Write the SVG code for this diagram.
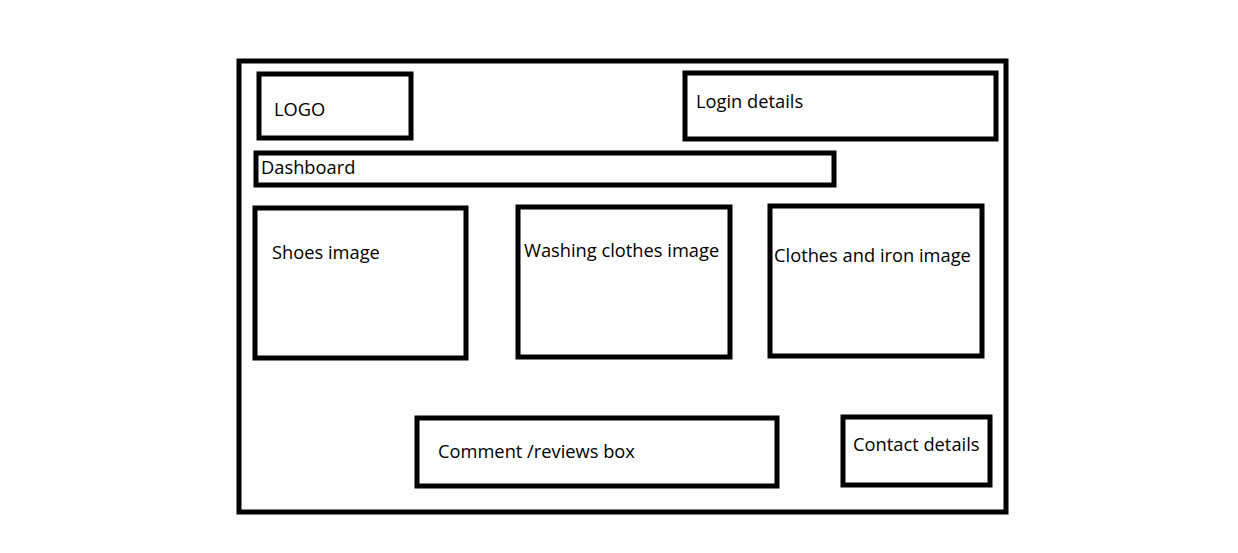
<svg xmlns="http://www.w3.org/2000/svg" width="1238" height="553" viewBox="0 0 1238 553">
<style>
.b{fill:#fff;stroke:#000;stroke-width:5}
.t{font-family:"Open Sans","Liberation Sans",sans-serif;font-size:18.3px;fill:#000}
</style>
<rect width="1238" height="553" fill="#fff"/>
<g id="page"><rect class="b" x="239" y="61" width="767" height="451"/></g>
<g id="logo"><rect class="b" x="259" y="74" width="152" height="64"/><text class="t" x="274" y="116">LOGO</text></g>
<g id="login"><rect class="b" x="685" y="73" width="311" height="66"/><text class="t" x="696" y="108">Login details</text></g>
<g id="dashboard"><rect class="b" x="256" y="153" width="578" height="32"/><text class="t" x="261" y="174">Dashboard</text></g>
<g id="shoes"><rect class="b" x="255" y="208" width="211" height="150"/><text class="t" x="272" y="259">Shoes image</text></g>
<g id="washing"><rect class="b" x="518" y="207" width="212" height="150"/><text class="t" x="524" y="257">Washing clothes image</text></g>
<g id="clothes"><rect class="b" x="770" y="206" width="212" height="150"/><text class="t" x="774" y="262">Clothes and iron image</text></g>
<g id="comment"><rect class="b" x="417" y="418" width="360" height="68"/><text class="t" x="438" y="458">Comment /reviews box</text></g>
<g id="contact"><rect class="b" x="843" y="417" width="147" height="68"/><text class="t" x="853" y="451">Contact details</text></g>
<g id="connectors"></g>
</svg>
